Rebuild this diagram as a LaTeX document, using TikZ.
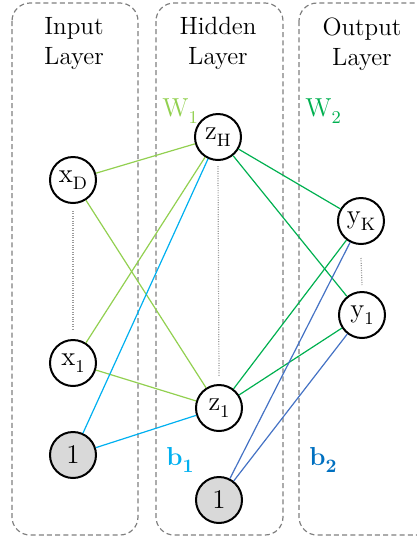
\documentclass[tikz,border=0pt]{standalone}
\definecolor{wone}{HTML}{92D050}
\definecolor{wtwo}{HTML}{00B050}
\definecolor{bone}{HTML}{00B0F0}
\definecolor{btwo}{HTML}{4472C4}
\definecolor{btwolbl}{HTML}{0070C0}
\definecolor{boxgray}{HTML}{808080}
\definecolor{dotgray}{HTML}{9A9A9A}
\definecolor{biasfill}{HTML}{D9D9D9}
\newcommand{\nsub}[1]{\raisebox{-3.5pt}{\fontsize{9}{9}\selectfont #1}}
\newcommand{\bsub}[1]{\raisebox{-3.5pt}{\fontsize{9.5}{9.5}\selectfont\bfseries #1}}
\begin{document}
\begin{tikzpicture}[x=0.5pt,y=-0.5pt,
  layerbox/.style={draw=boxgray,line width=0.6pt,dash pattern=on 2.5pt off 1.6pt,rounded corners=9pt},
  neuron/.style={circle,draw=black,line width=1pt,fill=white,minimum size=23pt,inner sep=0pt,font=\fontsize{13.5}{15}\selectfont},
  biasn/.style={neuron,fill=biasfill},
  layerlbl/.style={align=center,anchor=north,inner sep=0pt,font=\fontsize{12.5}{15}\selectfont},
  wlbl/.style={anchor=base west,inner sep=0pt,font=\fontsize{13}{15}\selectfont},
  blbl/.style={anchor=base west,inner sep=0pt,font=\fontsize{13}{15}\selectfont\bfseries},
  edge/.style={line width=0.6pt},
  dots/.style={draw=dotgray,line width=0.6pt,dash pattern=on 0.5pt off 0.7pt}]
\clip (0,0) rectangle (417,538);
\useasboundingbox (0,0) rectangle (417,538);
% layer boxes
\draw[layerbox] (12,3) rectangle (138,535);
\draw[layerbox] (156,3) rectangle (283,535);
\draw[layerbox] (299,3) rectangle (440,535);
% layer labels
\node[layerlbl] (lin) at (74,17) {Input\\Layer};
\node[layerlbl] (lhid) at (218,17) {Hidden\\Layer};
\node[layerlbl] (lout) at (362,17) {Output\\Layer};
% weight and bias labels
\node[wlbl,text=wone] (w1) at (162,116) {W\nsub{1}};
\node[wlbl,text=wtwo] (w2) at (305,116) {W\nsub{2}};
\node[blbl,text=bone] (b1) at (166,465) {b\bsub{1}};
\node[blbl,text=btwolbl] (b2) at (309,465) {b\bsub{2}};
% neurons
\node[neuron] (xD) at (73,180) {x\nsub{D}};
\node[neuron] (x1) at (73,363) {x\nsub{1}};
\node[biasn] (bi) at (73,455) {1};
\node[neuron] (zH) at (218,137) {z\nsub{H}};
\node[neuron] (z1) at (219,408) {z\nsub{1}};
\node[biasn] (bh) at (219,500) {1};
\node[neuron] (yK) at (361,221) {y\nsub{K}};
\node[neuron] (y1) at (362,315) {y\nsub{1}};
% connectors
\draw[edge,wone] (xD) -- (zH);
\draw[edge,wone] (xD) -- (z1);
\draw[edge,wone] (x1) -- (zH);
\draw[edge,wone] (x1) -- (z1);
\draw[edge,bone] (bi) -- (zH);
\draw[edge,bone] (bi) -- (z1);
\draw[edge,wtwo] (zH) -- (yK);
\draw[edge,wtwo] (zH) -- (y1);
\draw[edge,wtwo] (z1) -- (yK);
\draw[edge,wtwo] (z1) -- (y1);
\draw[edge,btwo] (bh) -- (yK);
\draw[edge,btwo] (bh) -- (y1);
% dotted ellipses
\draw[dots] ([yshift=-3.5pt]xD.south) -- ([yshift=5pt]x1.north);
\draw[dots] ([yshift=-2.5pt]zH.south) -- ([yshift=4pt]z1.north);
\draw[dots] ([yshift=-6.5pt]yK.south) -- ([yshift=3pt]y1.north);
\end{tikzpicture}
\end{document}
